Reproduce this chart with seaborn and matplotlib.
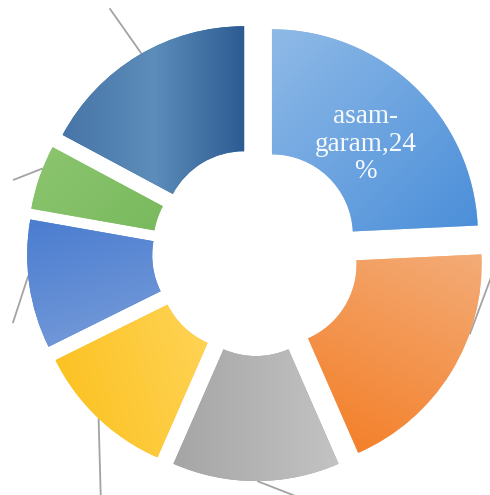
import numpy as np
import matplotlib
matplotlib.use("Agg")
import matplotlib.pyplot as plt
import seaborn as sns
from matplotlib.colors import to_rgb

# ---- data ----
categories = ["asam-garam", "kategori 2", "kategori 3", "kategori 4", "kategori 5", "kategori 6", "kategori 7"]
values = [24, 19, 13, 11, 10, 5, 17]
shown_labels = [True, False, False, False, False, False, False]

# gradient colour stops per slice (Office-like palette)
grad_colors = [
    ["#8FBAE7", "#4A8ED9"],
    ["#F3AC78", "#F47A1F"],
    ["#A5A5A5", "#C3C3C3"],
    ["#FCC01C", "#FFD864"],
    ["#4A7CD0", "#7FA2DB"],
    ["#8CC670", "#72B456"],
    ["#4675A7", "#5D8DBA", "#2B5B92"],
]
grad_dirs = [(1, -1), (-0.5, -1), (1, 0), (1, 0.3), (0.3, -1), (1, -1), (1, 0)]

# leader lines: (start angle on outer edge, end radius, end angle) clockwise from top
leaders = [(330, 1.38, 329), (291.4, 1.23, 286.5), (264, 1.23, 253.7),
           (223.4, 1.46, 211), (179.7, 1.30, 164), (111.1, 1.24, 84.2)]

sns.set_theme(style="white")
plt.rcParams['font.family'] = ['Liberation Serif', 'DejaVu Serif']

W, H = 490, 495
cx, cy, Rpx = 256, 252, 206
fig = plt.figure(figsize=(W / 100, H / 100), dpi=100)
ax = fig.add_axes([0, 0, 1, 1])

inner = 0.393
explode_d = 0.112
wedges, _ = ax.pie(values, startangle=90, counterclock=False, radius=1.0,
                   explode=[explode_d] * len(values),
                   wedgeprops=dict(width=1 - inner, linewidth=0),
                   colors=[c[0] for c in grad_colors])

for w, cols, d in zip(wedges, grad_colors, grad_dirs):
    path = w.get_path()
    verts = path.vertices
    x0, y0 = verts.min(axis=0)
    x1, y1 = verts.max(axis=0)
    n = 200
    xs = np.linspace(x0, x1, n)
    ys = np.linspace(y0, y1, n)
    X, Y = np.meshgrid(xs, ys)
    dv = np.array(d, float)
    dv /= np.linalg.norm(dv)
    t = X * dv[0] + Y * dv[1]
    t = (t - t.min()) / (t.max() - t.min())
    stops = np.array([to_rgb(c) for c in cols])
    pos = np.linspace(0, 1, len(stops))
    img = np.zeros((n, n, 3))
    for k in range(3):
        img[..., k] = np.interp(t, pos, stops[:, k])
    im = ax.imshow(img, extent=(x0, x1, y0, y1), origin="lower", zorder=2,
                   interpolation="bilinear")
    im.set_clip_path(w)
    w.set_zorder(1)

# leader lines
for sa, er, ea in leaders:
    r0 = 1 + explode_d
    a0 = np.deg2rad(sa)
    a1 = np.deg2rad(ea)
    ax.plot([r0 * np.sin(a0), er * np.sin(a1)], [r0 * np.cos(a0), er * np.cos(a1)],
            color="#A3A3A3", lw=1.3, zorder=0, solid_capstyle="butt")

# data label for the first slice
total = sum(values)
for i, (cat, v, show) in enumerate(zip(categories, values, shown_labels)):
    if not show:
        continue
    pct = round(100 * v / total)
    txt = cat.replace("-", "-\n") + f",{pct}\n%"
    ang = np.deg2rad(45.5)
    r = 0.745
    ax.text(r * np.sin(ang), r * np.cos(ang), txt, ha="center", va="center",
            color="white", fontsize=19.5, linespacing=1.13, zorder=5, alpha=0.95)

ax.set_xlim(-cx / Rpx, (W - cx) / Rpx)
ax.set_ylim(-(H - cy) / Rpx, cy / Rpx)
ax.set_aspect("equal", adjustable="box")
ax.axis("off")
fig.savefig("out.png", dpi=100, facecolor="white")
